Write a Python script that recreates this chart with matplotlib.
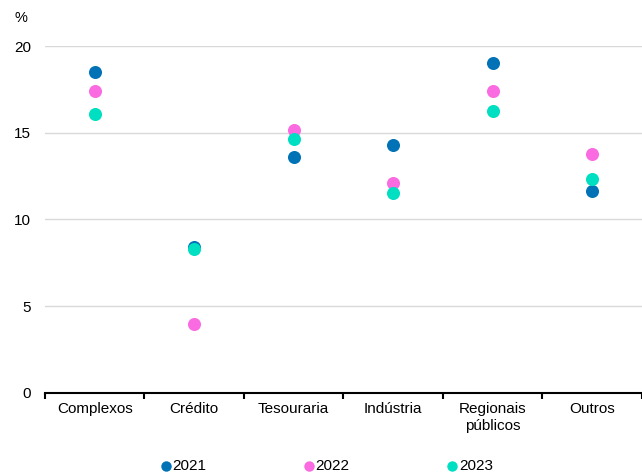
import matplotlib
matplotlib.use('Agg')
import matplotlib.pyplot as plt
import numpy as np

plt.rcParams['font.family'] = ['Liberation Sans', 'DejaVu Sans']

categorias = ['Complexos', 'Crédito', 'Tesouraria', 'Indústria', 'Regionais\npúblicos', 'Outros']
anos = ['2021', '2022', '2023']
v2021 = [18.5, 8.4, 13.6, 14.3, 19.0, 11.65]
v2022 = [17.4, 3.95, 15.15, 12.1, 17.4, 13.75]
v2023 = [16.1, 8.3, 14.65, 11.5, 16.25, 12.35]
cores = ['#0072B5', '#FA6AE0', '#00DFC1']

fig = plt.figure(figsize=(6.42, 4.72), dpi=100)
ax = fig.add_axes([0.070, 0.168, 0.930, 0.7345])

x = np.arange(len(categorias)) + 0.5
for ano, vals, cor in zip(anos, [v2021, v2022, v2023], cores):
    ax.scatter(x, vals, s=88, color=cor, label=ano, zorder=3, linewidths=0)

ax.set_xlim(0, len(categorias))
ax.set_ylim(0, 20)
ax.set_yticks([0, 5, 10, 15, 20])
ax.tick_params(axis='y', length=0, labelsize=11, pad=10)
ax.grid(axis='y', color='#d9d9d9', linewidth=1)
ax.set_axisbelow(True)

ax.set_xticks(np.arange(len(categorias) + 1))
ax.set_xticklabels([])
ax.tick_params(axis='x', which='major', length=4, width=1.5, color='black')
ax.set_xticks(x, minor=True)
ax.set_xticklabels(categorias, minor=True, fontsize=11)
ax.tick_params(axis='x', which='minor', length=0, pad=7)

for s in ['top', 'right', 'left']:
    ax.spines[s].set_visible(False)
ax.spines['bottom'].set_linewidth(1.5)
ax.spines['bottom'].set_color('black')

fig.text(0.022, 0.962, '%', fontsize=10.5, va='center', ha='left')

fig.legend(loc='center', bbox_to_anchor=(0.508, 0.012), ncol=3, frameon=False,
           fontsize=11, handlelength=0.8, handletextpad=0.05, columnspacing=6.3,
           markerscale=0.8, borderaxespad=0)

fig.savefig('out.png', dpi=100)
